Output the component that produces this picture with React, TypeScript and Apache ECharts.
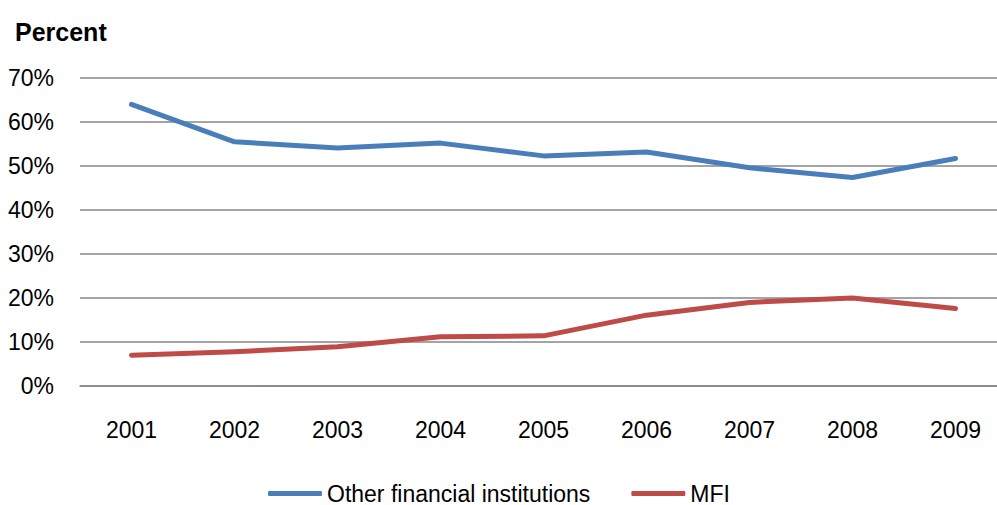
import React, { useEffect, useRef } from "react";
import * as echarts from "echarts";

// Years on the category axis
const years = ["2001", "2002", "2003", "2004", "2005", "2006", "2007", "2008", "2009"];
// Share in percent
const otherFinancial = [64.0, 55.5, 54.1, 55.2, 52.3, 53.2, 49.6, 47.4, 51.7];
const mfi = [7.0, 7.8, 8.9, 11.2, 11.4, 16.1, 19.0, 20.0, 17.6];
// Y axis range
const yMin = 0;
const yMax = 70;
const yStep = 10;

const FONT = "'Liberation Sans', Arial, sans-serif";

export default function App() {
  const ref = useRef<HTMLDivElement>(null);

  useEffect(() => {
    document.body.style.margin = "0";
    if (!ref.current) return;
    const chart = echarts.init(ref.current, undefined, { renderer: "svg" });
    chart.setOption({
      animation: false,
      backgroundColor: "#ffffff",
      title: {
        text: "Percent",
        left: 10,
        top: 14,
        textStyle: { fontFamily: FONT, fontSize: 25, fontWeight: "bold", color: "#000" },
      },
      // plot area runs past the right edge so the last band is cut
      grid: {
        left: 80,
        width: 927,
        top: 78,
        bottom: 119,
        containLabel: false,
        outerBoundsMode: "none",
      },
      legend: {
        left: 263,
        top: 477,
        itemWidth: 54,
        itemHeight: 5,
        itemGap: 41,
        icon: "roundRect",
        textStyle: { fontFamily: FONT, fontSize: 23, lineHeight: 23, color: "#000" },
        data: ["Other financial institutions", "MFI"],
      },
      xAxis: {
        type: "category",
        data: years,
        boundaryGap: true,
        axisLine: { lineStyle: { color: "#868686", width: 1.5 } },
        axisTick: { show: false },
        axisLabel: { fontFamily: FONT, fontSize: 23, color: "#000", margin: 32 },
      },
      yAxis: {
        type: "value",
        min: yMin,
        max: yMax,
        interval: yStep,
        axisLine: { show: false },
        axisTick: { show: false },
        axisLabel: {
          fontFamily: FONT,
          fontSize: 23,
          color: "#000",
          margin: 26,
          formatter: "{value}%",
        },
        splitLine: { lineStyle: { color: "#868686", width: 1.5 } },
      },
      series: [
        {
          name: "Other financial institutions",
          type: "line",
          data: otherFinancial,
          symbol: "none",
          color: "#4a7ebb",
          lineStyle: { width: 5, color: "#4a7ebb", cap: "round", join: "round" },
        },
        {
          name: "MFI",
          type: "line",
          data: mfi,
          symbol: "none",
          color: "#be4b48",
          lineStyle: { width: 5, color: "#be4b48", cap: "round", join: "round" },
        },
      ],
    });
    return () => chart.dispose();
  }, []);

  return <div ref={ref} style={{ width: 997, height: 505 }} />;
}
